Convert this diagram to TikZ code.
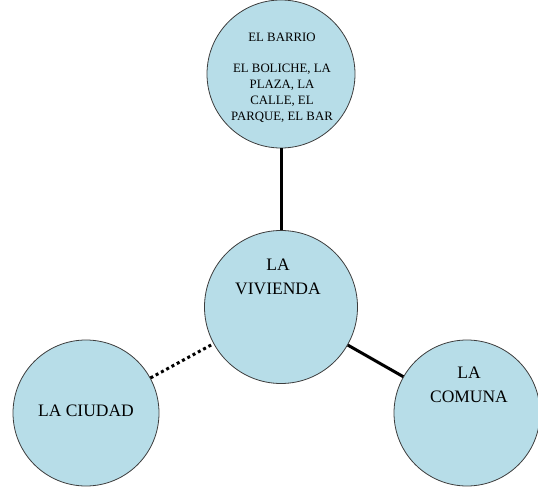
\documentclass[tikz,border=0pt]{standalone}
\usepackage{fontspec}
\setmainfont{Liberation Serif}
\definecolor{bubble}{RGB}{183,221,232}
\definecolor{rim}{RGB}{60,60,60}
\begin{document}
\begin{tikzpicture}[x=1pt,y=1pt,
  bubblestyle/.style={circle,draw=rim,line width=0.8pt,fill=bubble,inner sep=0pt},
  bigtext/.style={font=\fontsize{17.5}{24}\selectfont,align=center,text=black,inner sep=0pt},
  smalltext/.style={font=\fontsize{12.8}{15.8}\selectfont,align=center,text=black,inner sep=0pt},
  link/.style={line width=3pt,black}]
\useasboundingbox (0,0) rectangle (538,488);
\node[bubblestyle,minimum size=148pt] (barrio) at (281,414) {};
\node[bubblestyle,minimum size=153pt] (viv) at (281,181) {};
\node[bubblestyle,minimum size=146pt] (ciudad) at (86,75) {};
\node[bubblestyle,minimum size=146pt] (comuna) at (467,75) {};
\node[smalltext] (barrio-t) at (282,410.5) {EL BARRIO\\[15.8pt]EL BOLICHE, LA\\PLAZA, LA\\CALLE, EL\\PARQUE, EL BAR};
\node[bigtext] (viv-t) at (278,211) {LA\\VIVIENDA};
\node[bigtext] (ciudad-t) at (86,77) {LA CIUDAD};
\node[bigtext] (comuna-t) at (469,103.5) {LA\\COMUNA};
\draw[link] (barrio) -- (viv);
\draw[link,dash pattern=on 3pt off 3pt] (ciudad) -- (viv);
\draw[link] (viv) -- (comuna);
\end{tikzpicture}
\end{document}
